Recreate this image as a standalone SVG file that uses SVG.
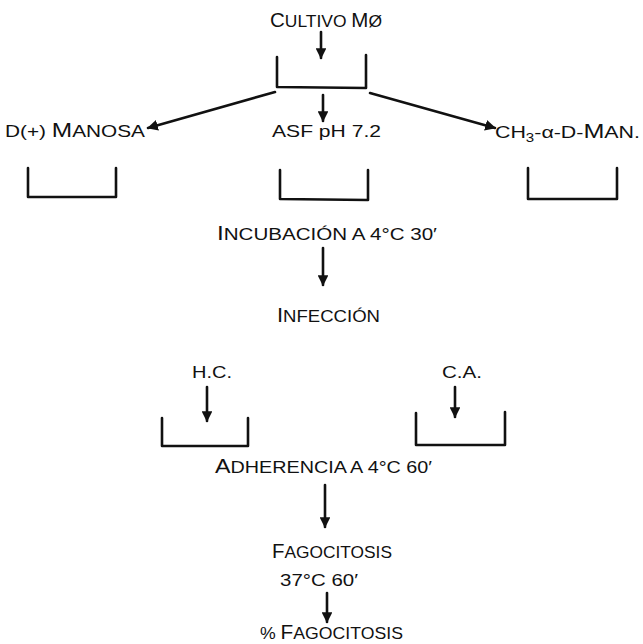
<svg xmlns="http://www.w3.org/2000/svg" width="643" height="644" viewBox="0 0 643 644">
<defs>
<style>
.t{font-family:"Liberation Sans","DejaVu Sans",sans-serif;font-size:17px;fill:#111;}
.b{font-size:20px;}
.s{font-size:12px;}
.ln{stroke:#111;stroke-width:2.6;fill:none;stroke-linecap:round;stroke-linejoin:round;}
</style>
<marker id="ah" viewBox="0 0 10 10" refX="9" refY="5" markerWidth="4.2" markerHeight="4.2" orient="auto" markerUnits="strokeWidth">
<path d="M0,0 L10,5 L0,10 Z" fill="#111"/>
</marker>
</defs>
<rect width="643" height="644" fill="#fff"/>

<g id="connectors">
<line class="ln" x1="321" y1="32" x2="321" y2="58" marker-end="url(#ah)"/>
<line class="ln" x1="275" y1="92" x2="148" y2="128" marker-end="url(#ah)"/>
<line class="ln" x1="370" y1="93" x2="495" y2="128" marker-end="url(#ah)"/>
<line class="ln" x1="323" y1="95" x2="323" y2="121" marker-end="url(#ah)"/>
<line class="ln" x1="323" y1="248" x2="323" y2="285" marker-end="url(#ah)"/>
<line class="ln" x1="207" y1="387" x2="207" y2="421" marker-end="url(#ah)"/>
<line class="ln" x1="455" y1="387" x2="455" y2="417" marker-end="url(#ah)"/>
<line class="ln" x1="325" y1="485" x2="325" y2="527" marker-end="url(#ah)"/>
<line class="ln" x1="327" y1="593" x2="327" y2="622" marker-end="url(#ah)"/>
</g>

<g id="bracket-top"><polyline class="ln" points="277,57 277,87 366,88 366,55"/></g>
<g id="bracket-left"><polyline class="ln" points="28,168 28,197 116,197 116,168"/></g>
<g id="bracket-mid"><polyline class="ln" points="280,170 280,199 368,200 368,170"/></g>
<g id="bracket-right"><polyline class="ln" points="528,168 528,199 617,199 617,168"/></g>
<g id="bracket-hc"><polyline class="ln" points="162,418 162,446 248,446 248,418"/></g>
<g id="bracket-ca"><polyline class="ln" points="416,413 416,445 505,445 505,412"/></g>

<g id="n-cultivo"><text class="t" x="270" y="27" textLength="112" lengthAdjust="spacingAndGlyphs"><tspan class="b">C</tspan>ULTIVO <tspan class="b">M</tspan>Ø</text></g>
<g id="n-manosa"><text class="t" x="5" y="137" textLength="140" lengthAdjust="spacingAndGlyphs">D(+) <tspan class="b">M</tspan>ANOSA</text></g>
<g id="n-asf"><text class="t" x="272" y="137" textLength="109" lengthAdjust="spacingAndGlyphs">ASF pH 7.2</text></g>
<g id="n-ch3"><text class="t" x="495" y="138" textLength="145" lengthAdjust="spacingAndGlyphs">CH<tspan class="s" dy="4">3</tspan><tspan dy="-4">-α-D-</tspan><tspan class="b">M</tspan>AN.</text></g>
<g id="n-incubacion"><text class="t" x="217" y="240" textLength="220" lengthAdjust="spacingAndGlyphs"><tspan class="b">I</tspan>NCUBACIÓN A 4°C 30′</text></g>
<g id="n-infeccion"><text class="t" x="277" y="322" textLength="103" lengthAdjust="spacingAndGlyphs"><tspan class="b">I</tspan>NFECCIÓN</text></g>
<g id="n-hc"><text class="t" x="192" y="378" textLength="40" lengthAdjust="spacingAndGlyphs">H.C.</text></g>
<g id="n-ca"><text class="t" x="442" y="378" textLength="40" lengthAdjust="spacingAndGlyphs">C.A.</text></g>
<g id="n-adherencia"><text class="t" x="215" y="473" textLength="217" lengthAdjust="spacingAndGlyphs"><tspan class="b">A</tspan>DHERENCIA A 4°C 60′</text></g>
<g id="n-fagocitosis"><text class="t" x="272" y="558" textLength="120" lengthAdjust="spacingAndGlyphs"><tspan class="b">F</tspan>AGOCITOSIS</text><text class="t" x="280" y="586" textLength="78" lengthAdjust="spacingAndGlyphs">37°C 60′</text></g>
<g id="n-pct"><text class="t" x="260" y="639" textLength="143" lengthAdjust="spacingAndGlyphs">% <tspan class="b">F</tspan>AGOCITOSIS</text></g>
</svg>
